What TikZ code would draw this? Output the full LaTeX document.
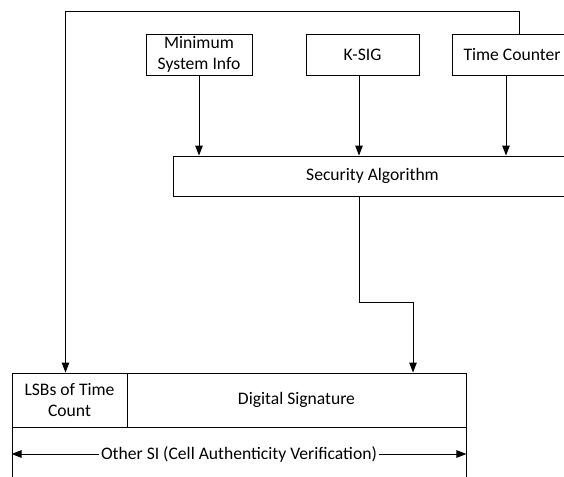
\documentclass[tikz,border=0pt]{standalone}
\usepackage{fontspec}
\setmainfont{Carlito}
\usetikzlibrary{arrows.meta}
\begin{document}
\begin{tikzpicture}[x=1pt,y=-1pt,
  box/.style={draw,line width=0.9pt,inner sep=0pt,align=center,font=\fontsize{17.6}{21.5}\selectfont},
  lbl/.style={inner sep=1.5pt,fill=white,font=\fontsize{17.6}{21.5}\selectfont},
  arr/.style={-{Triangle[length=10pt,width=7.5pt]},line width=0.9pt}]
\useasboundingbox (0,0) rectangle (564,476);
\clip (0,0) rectangle (564,476);
% top row
\node[box,minimum width=106pt,minimum height=41pt] (msi) at (199,54.5) {Minimum\\System Info};
\node[box,minimum width=113pt,minimum height=41pt] (ksig) at (362.5,54.5) {K-SIG};
\node[box,minimum width=120pt,minimum height=41pt] (tc) at (512,54.5) {Time Counter};
% security algorithm
\node[box,minimum width=399pt,minimum height=40pt] (sec) at (372.5,176) {Security Algorithm};
% bottom frame
\node[box,minimum width=115pt,minimum height=54pt] (lsb) at (69.5,400) {LSBs of Time\\Count};
\node[box,minimum width=339pt,minimum height=54pt] (ds) at (296.5,400) {Digital Signature};
\node[box,minimum width=454pt,minimum height=54pt] (osi) at (239,454) {};
\node[lbl] (oth) at (239,454) {Other SI (Cell Authenticity Verification)};
% arrows into security algorithm
\draw[arr] (msi.south) -- (msi.south |- sec.north);
\draw[arr] ([xshift=-3.5pt]ksig.south) -- ([xshift=-3.5pt]ksig.south |- sec.north);
\draw[arr] ([xshift=-6pt]tc.south) -- ([xshift=-6pt]tc.south |- sec.north);
% security algorithm to digital signature
\draw[arr] ([xshift=-13.5pt]sec.south) -- ++(0,106) -| ([xshift=116.5pt]ds.north);
% feedback from time counter to LSBs
\draw[arr] ([xshift=7.5pt]tc.north) -- ++(0,-22) -| ([xshift=-4pt]lsb.north);
% other SI span arrows
\draw[arr] (oth.west) -- (osi.west |- oth.west);
\draw[arr] (oth.east) -- (osi.east |- oth.east);
\end{tikzpicture}
\end{document}
